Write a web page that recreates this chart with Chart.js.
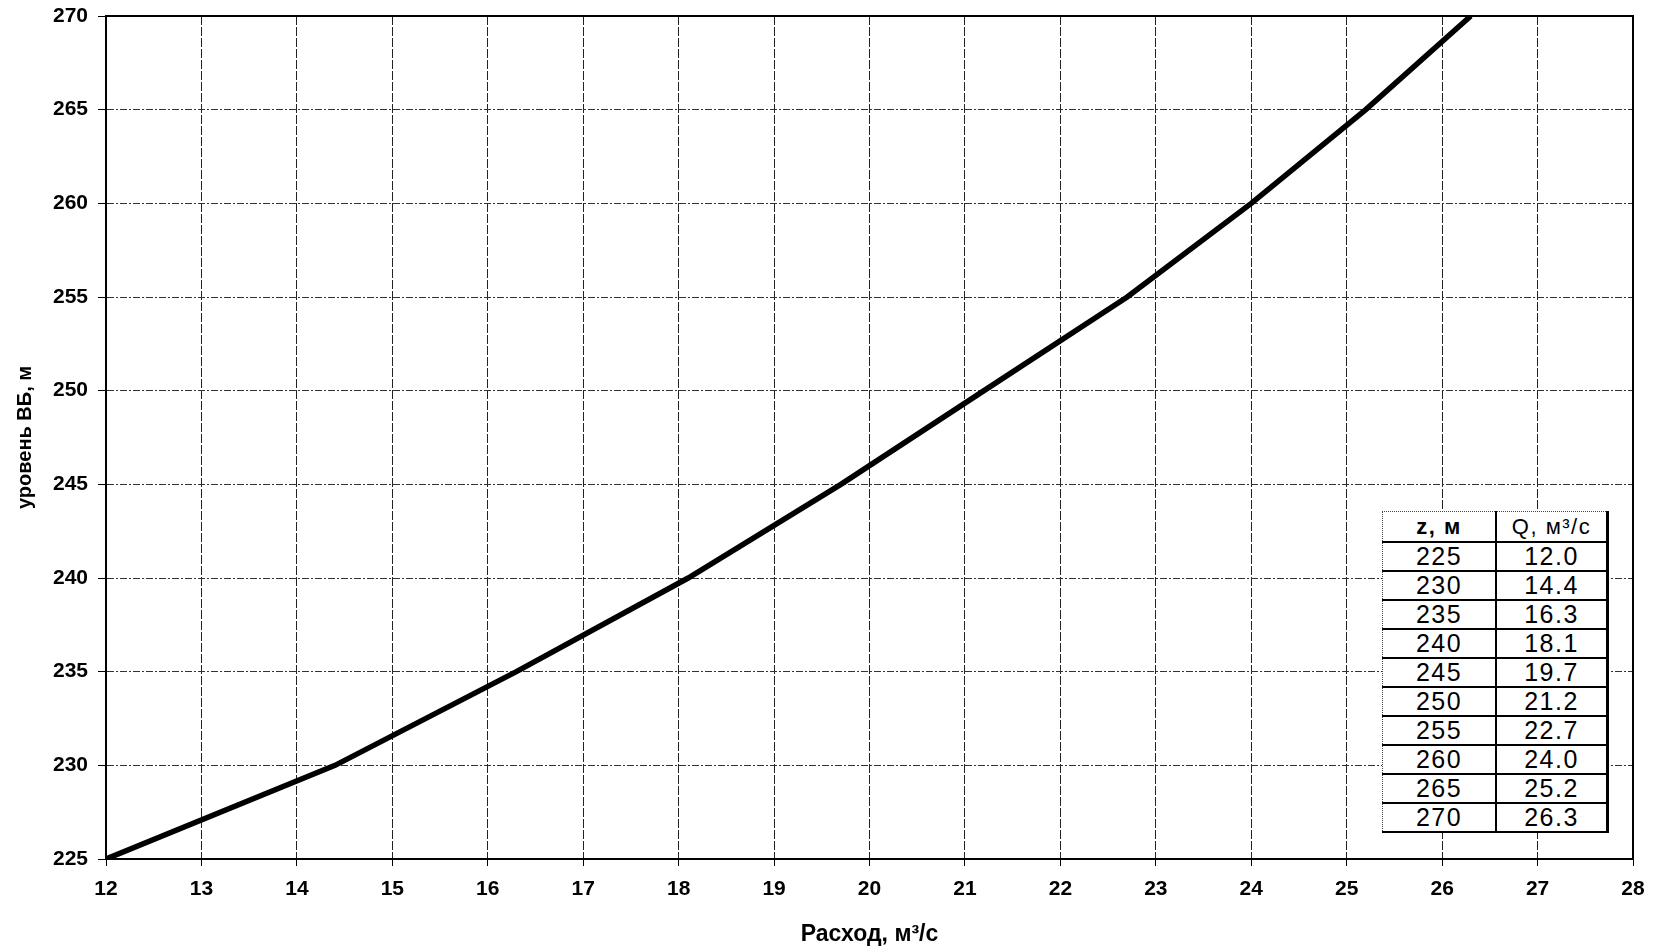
<!DOCTYPE html>
<html><head><meta charset="utf-8">
<script src="https://cdn.jsdelivr.net/npm/chart.js@4/dist/chart.umd.min.js"></script>
<style>
html,body{margin:0;padding:0;background:#fff;}
#wrap{position:relative;width:1654px;height:951px;}
#tbl{position:absolute;left:1382px;top:511px;width:227px;border-collapse:collapse;background:#fff;font-family:"Liberation Sans",Arial,sans-serif;font-size:25px;letter-spacing:1.5px;color:#000;}
#tbl td{text-align:center;padding:0;height:27px;border-top:2px solid #000;border-bottom:2px solid #000;line-height:27px;}
#tbl td.c1{border-left:1px dotted #444;border-right:2px solid #000;width:112px;}
#tbl td.c2{border-right:3px solid #000;}
#tbl tr.h td{height:29px;border-top:1px dotted #444;font-size:22px;}
</style>
</head><body>
<div id="wrap"><canvas id="c" width="1654" height="951"></canvas>
<table id="tbl"><tbody id="tb"></tbody></table></div>
<script>
const levels = [225, 230, 235, 240, 245, 250, 255, 260, 265, 270];
const flows = [12.0, 14.4, 16.3, 18.1, 19.7, 21.2, 22.7, 24.0, 25.2, 26.3];
const xTitle = 'Расход, м³/с';
const yTitle = 'уровень ВБ, м';
const tblHead = ['z, м', 'Q, м³/с'];

const tb = document.getElementById('tb');
let h = '<tr class="h"><td class="c1"><b>' + tblHead[0] + '</b></td><td class="c2">' + tblHead[1] + '</td></tr>';
levels.forEach((z, i) => { h += '<tr><td class="c1">' + z + '</td><td class="c2">' + flows[i].toFixed(1) + '</td></tr>'; });
tb.innerHTML = h;

const frame = {
  id: 'frame',
  afterDatasetsDraw(chart) {
    const a = chart.chartArea, ctx = chart.ctx;
    ctx.save(); ctx.strokeStyle = '#000'; ctx.lineWidth = 2;
    ctx.strokeRect(a.left, a.top, a.right - a.left, a.bottom - a.top);
    ctx.restore();
  }
};

const fam = '"Liberation Sans", Arial, sans-serif';
const tickFont = {family: fam, size: 21, weight: 'bold'};
new Chart(document.getElementById('c'), {
  type: 'line',
  data: { datasets: [{ data: levels.map((z, i) => ({x: flows[i], y: z})), borderColor: '#000', borderWidth: 5.5, pointRadius: 0, tension: 0, fill: false }] },
  options: {
    responsive: false, animation: false,
    plugins: { legend: {display: false}, tooltip: {enabled: false} },
    layout: { padding: {left: 0, top: 16, right: 21, bottom: 0} },
    scales: {
      x: { type: 'linear', min: 12, max: 28,
        ticks: { stepSize: 1, color: '#000', font: tickFont, padding: 11 },
        grid: { color: '#222', lineWidth: 1, tickLength: 7, tickColor: '#000', tickWidth: 1 },
        border: { display: true, color: '#000', width: 2, dash: [9, 2] },
        title: { display: true, text: xTitle, color: '#000', font: {family: fam, size: 23, weight: 'bold'}, padding: {top: 4, bottom: 3} },
        afterFit(s) { s.height = 92; s.paddingLeft = 0; s.paddingRight = 0; }
      },
      y: { type: 'linear', min: 225, max: 270,
        ticks: { stepSize: 5, color: '#000', font: tickFont, padding: 10 },
        grid: { color: '#333', lineWidth: 1, tickLength: 8, tickColor: '#000', tickWidth: 1 },
        border: { display: true, color: '#000', width: 2, dash: [7, 2, 2, 2] },
        title: { display: true, text: yTitle, color: '#000', font: {family: fam, size: 20, weight: 'bold'}, padding: {top: 13, bottom: 0} },
        afterFit(s) { s.width = 106; s.paddingTop = 0; s.paddingBottom = 0; }
      }
    }
  },
  plugins: [frame]
});
</script>
</body></html>
